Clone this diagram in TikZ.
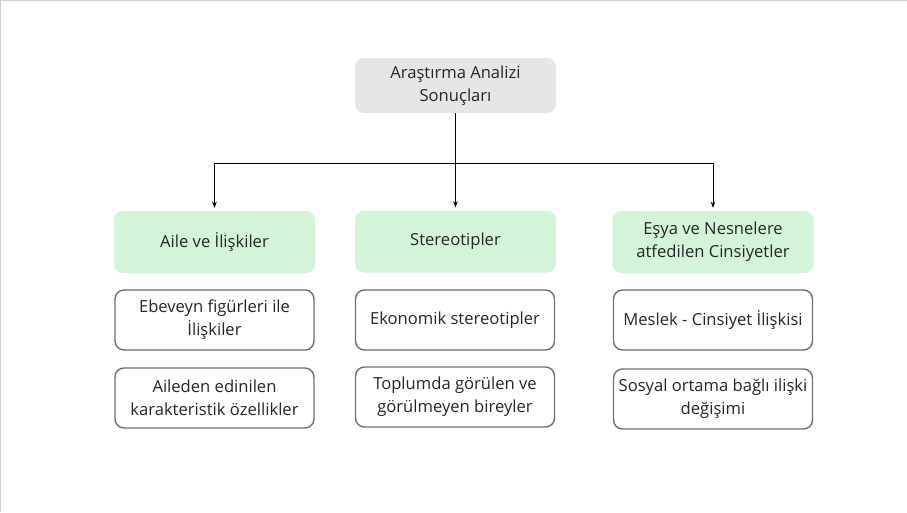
\documentclass[tikz,border=0pt]{standalone}
\usepackage{fontspec}
\setmainfont{Open Sans}
\usetikzlibrary{arrows.meta}
\definecolor{topgray}{HTML}{E6E6E6}
\definecolor{catgreen}{HTML}{D3F4D9}
\definecolor{boxborder}{HTML}{707070}
\definecolor{txt}{HTML}{262626}
\definecolor{frame}{HTML}{D0D0D0}
\begin{document}
\begin{tikzpicture}[x=1pt,y=-1pt,
  every node/.style={font=\fontsize{16.6}{23}\selectfont, text=txt, align=center, inner sep=0pt},
  topbox/.style={fill=topgray, rounded corners=9pt, minimum width=201pt, minimum height=55pt},
  catbox/.style={fill=catgreen, rounded corners=9pt, minimum width=201pt, minimum height=62pt},
  itembox/.style={draw=boxborder, line width=1.4pt, fill=white, rounded corners=9pt, minimum width=199pt, minimum height=60pt},
  conn/.style={line width=1pt, black},
  arr/.style={conn, -{Stealth[length=6pt,width=4.5pt]}, shorten >=3pt}
]
\useasboundingbox (0,0) rectangle (907,512);
\fill[white] (0,0) rectangle (907,512);
\draw[frame, line width=1.2pt] (0.6,512) -- (0.6,0.6) -- (907,0.6);

\node[topbox] (top) at (455.5,85.5) {Araştırma Analizi\\Sonuçları};

\node[catbox] (c1) at (214.5,242) {Aile ve İlişkiler};
\node[catbox] (c2) at (455.5,241.5) {Stereotipler};
\node[catbox] (c3) at (713,242) {Eşya ve Nesnelere\\atfedilen Cinsiyetler};

\node[itembox] (a1) at (214.5,320) {Ebeveyn figürleri ile\\İlişkiler};
\node[itembox] (a2) at (214.5,398) {Aileden edinilen\\karakteristik özellikler};
\node[itembox] (b1) at (455,320) {Ekonomik stereotipler};
\node[itembox] (b2) at (455,397) {Toplumda görülen ve\\görülmeyen bireyler};
\node[itembox] (d1) at (713,320) {Meslek - Cinsiyet İlişkisi};
\node[itembox] (d2) at (713,399) {Sosyal ortama bağlı ilişki\\değişimi};

\coordinate (jl) at (c1.north |- 0,163);
\coordinate (jr) at (c3.north |- 0,163);

\draw[arr] (top.south) -- (c2.north);
\draw[conn] (jl) -- (jr);
\draw[arr] (jl) -- (c1.north);
\draw[arr] (jr) -- (c3.north);
\end{tikzpicture}
\end{document}
